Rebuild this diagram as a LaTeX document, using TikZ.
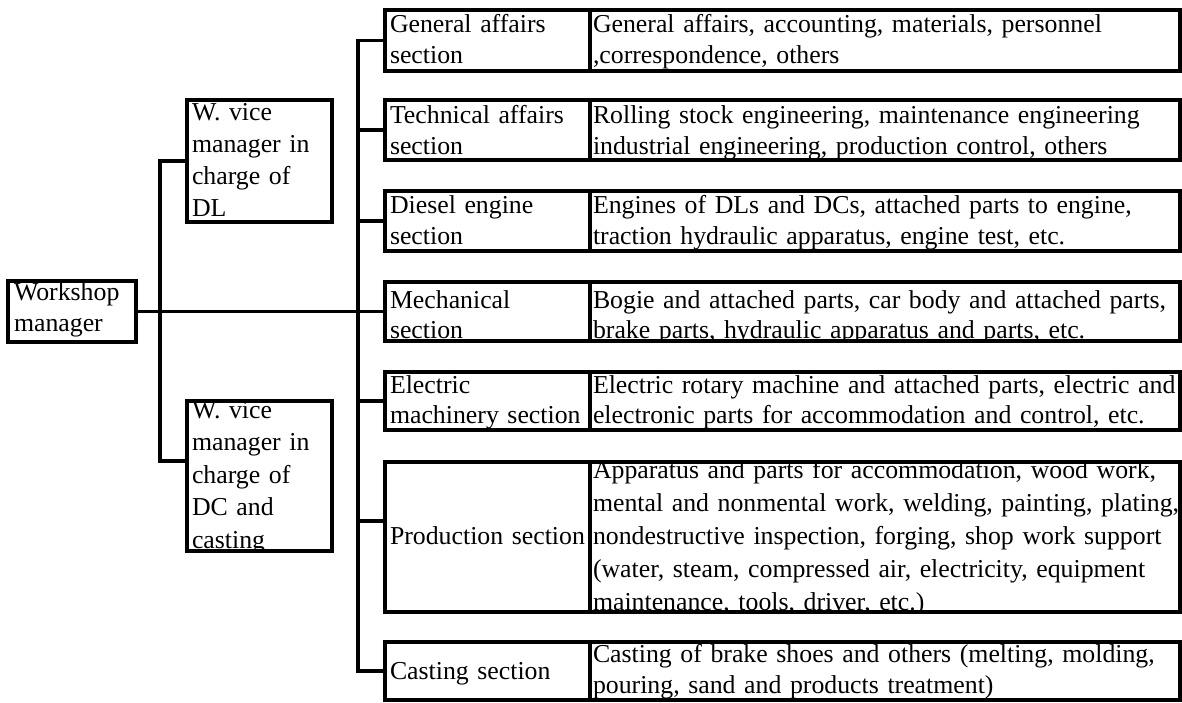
\documentclass[tikz,border=0pt]{standalone}
\usepackage{fontspec}
\setmainfont{Liberation Serif}
\newcommand\tstrut{\rule{0pt}{20pt}}
\tikzset{
  box/.style={draw, line width=3.2pt, inner sep=0pt, outer sep=0pt},
  txt/.style={inner sep=0pt, outer sep=0pt, align=left, text width=700pt},
  conn/.style={draw, line width=3.2pt, line cap=rect}
}
% name, x, y, w, h, dx, first baseline, baselineskip, text
\newcommand\cellbox[9]{%
  \begin{scope}
    \clip (#2,#3) rectangle ++(#4,#5);
    \node[txt, font=\fontsize{25.8}{#8}\selectfont, anchor=north west] at ({#2+#6},{#7-20}) {\tstrut #9};
  \end{scope}
  \node[box, minimum width=#4pt, minimum height=#5pt, anchor=north west] (#1) at (#2,#3) {};
}
\begin{document}
\begin{tikzpicture}[x=1pt,y=-1pt]
\useasboundingbox (0,0) rectangle (1182,702);
\fill[white] (0,0) rectangle (1182,702);

% left part
\cellbox{ws}{8}{281}{128}{61}{6}{300}{31}{Workshop\\manager}
\cellbox{dl}{187}{100}{145}{122}{5}{120}{32}{W. vice\\manager in\\charge of\\DL}
\cellbox{dc}{187}{401}{145}{150}{5}{418}{32.5}{W. vice\\manager in\\charge of\\DC and\\casting}

% sections (left cells)
\cellbox{gen}{385}{10}{205}{61}{5}{32}{31}{General affairs\\section}
\cellbox{tech}{385}{100}{205}{60}{5}{123}{31}{Technical affairs\\section}
\cellbox{dies}{385}{191}{205}{60}{5}{213}{31}{Diesel engine\\section}
\cellbox{mech}{385}{282}{205}{59}{5}{308}{30}{Mechanical\\section}
\cellbox{elec}{385}{372}{205}{58}{5}{393}{30}{Electric\\machinery section}
\cellbox{prod}{385}{462}{205}{150}{5}{544}{31}{Production section}
\cellbox{cast}{385}{642}{205}{58}{5}{679}{31}{Casting section}

% descriptions (right cells)
\cellbox{genD}{590}{10}{590}{61}{3}{32}{31}{General affairs, accounting, materials, personnel\\,correspondence, others}
\cellbox{techD}{590}{100}{590}{60}{3}{123}{31}{Rolling stock engineering, maintenance engineering\\industrial engineering, production control, others}
\cellbox{diesD}{590}{191}{590}{60}{3}{213}{31}{Engines of DLs and DCs, attached parts to engine,\\traction hydraulic apparatus, engine test, etc.}
\cellbox{mechD}{590}{282}{590}{59}{3}{308}{30}{Bogie and attached parts, car body and attached parts,\\brake parts, hydraulic apparatus and parts, etc.}
\cellbox{elecD}{590}{372}{590}{58}{3}{393}{30}{Electric rotary machine and attached parts, electric and\\electronic parts for accommodation and control, etc.}
\cellbox{prodD}{590}{462}{590}{150}{3}{478}{33}{Apparatus and parts for accommodation, wood work,\\mental and nonmental work, welding, painting, plating,\\nondestructive inspection, forging, shop work support\\(water, steam, compressed air, electricity, equipment\\maintenance, tools, driver, etc.)}
\cellbox{castD}{590}{642}{590}{58}{3}{662}{31}{Casting of brake shoes and others (melting, molding,\\pouring, sand and products treatment)}

% connectors
\coordinate (tl2) at (160,461);
\coordinate (tr) at (358,671);
\coordinate (pj) at (358,521);
\draw[conn, line cap=butt] (dl.west) -| (tl2) -- (dc.west |- tl2);
\draw[conn] (ws.east) -- (mech.west);
\draw[conn, line cap=butt] (gen.west) -| (tr) -- (cast.west |- tr);
\draw[conn] (tech.west -| tr) -- (tech.west);
\draw[conn] (dies.west -| tr) -- (dies.west);
\draw[conn] (elec.west -| tr) -- (elec.west);
\draw[conn] (pj) -- (prod.west |- pj);
\end{tikzpicture}
\end{document}
